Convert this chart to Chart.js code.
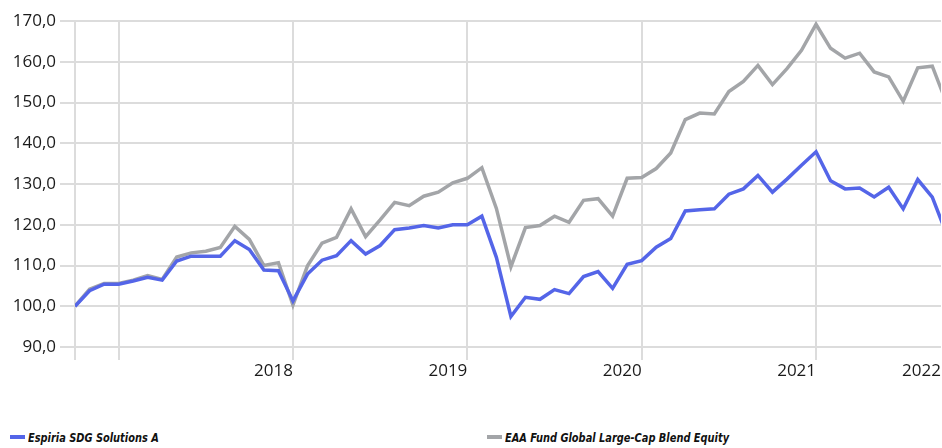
<!DOCTYPE html>
<html>
<head>
<meta charset="utf-8">
<script src="https://cdn.jsdelivr.net/npm/chart.js@4"></script>
<style>
  html, body { margin: 0; padding: 0; background: #fff; }
  #wrap { position: relative; width: 942px; height: 448px; overflow: hidden; }
  #chartBox { position: absolute; left: 0; top: 0; width: 942px; height: 400px; }
  .legend { position: absolute; top: 431px; font: italic bold 12px "Liberation Sans Narrow", "DejaVu Sans Condensed", sans-serif; color: #111; white-space: nowrap; }
  .legend span.box { display: inline-block; width: 15px; height: 4px; vertical-align: middle; margin-right: 3px; position: relative; top: -2px; }
  .legend span.txt { display: inline-block; transform: scaleX(0.91); transform-origin: left center; }
</style>
</head>
<body>
<div id="wrap">
  <div id="chartBox"><canvas id="chart"></canvas></div>
  <div class="legend" style="left:10px"><span class="box" style="background:#5465e8"></span><span class="txt">Espiria SDG Solutions A</span></div>
  <div class="legend" style="left:487px"><span class="box" style="background:#a3a5a8"></span><span class="txt">EAA Fund Global Large-Cap Blend Equity</span></div>
</div>
<script>
// monthly index values, month 0 = start of the series
const espiria = [
  100.0, 103.8, 105.4, 105.4, 106.2, 107.1, 106.4, 111.1, 112.3, 112.3,
  112.3, 116.1, 113.9, 108.9, 108.7, 101.3, 107.9, 111.3, 112.4, 116.1,
  112.8, 114.9, 118.8, 119.2, 119.8, 119.2, 120.0, 120.0, 122.1, 112.0,
  97.5, 102.2, 101.7, 104.1, 103.1, 107.3, 108.5, 104.4, 110.3, 111.2,
  114.5, 116.6, 123.4, 123.7, 123.9, 127.5, 128.8, 132.1, 128.0, 131.2,
  134.6, 137.9, 130.8, 128.8, 129.0, 126.8, 129.2, 123.9, 131.1, 126.8,
  117.6
];
const benchmark = [
  100.0, 104.2, 105.6, 105.6, 106.4, 107.5, 106.6, 112.1, 113.1, 113.5,
  114.4, 119.6, 116.4, 110.0, 110.7, 100.3, 109.9, 115.5, 116.9, 123.9,
  117.1, 121.2, 125.5, 124.7, 127.0, 128.0, 130.3, 131.4, 134.0, 124.0,
  109.7, 119.3, 119.8, 122.1, 120.6, 126.0, 126.4, 122.1, 131.4, 131.6,
  133.8, 137.6, 145.8, 147.4, 147.2, 152.7, 155.2, 159.1, 154.4, 158.3,
  162.8, 169.2, 163.3, 160.9, 162.1, 157.5, 156.3, 150.3, 158.5, 158.9,
  149.7
];
const tickMonths = [0, 3, 15, 27, 39, 51, 59.6];
const tickLabels = ["", "", "2018", "2019", "2020", "2021", "2022"];

const toPoints = (arr) => arr.map((v, i) => ({ x: i, y: v }));
const gridColor = "#dcdcdc";
const fontFamily = '"Open Sans", "Noto Sans", sans-serif';

const ctx = document.getElementById("chart");
new Chart(ctx, {
  type: "line",
  data: {
    datasets: [
      {
        label: "Espiria SDG Solutions A",
        data: toPoints(espiria),
        borderColor: "#5465e8",
        borderWidth: 3.5,
        pointRadius: 0,
        tension: 0,
        order: 1,
      },
      {
        label: "EAA Fund Global Large-Cap Blend Equity",
        data: toPoints(benchmark),
        borderColor: "#a3a5a8",
        borderWidth: 3.5,
        pointRadius: 0,
        tension: 0,
        order: 2,
      },
    ],
  },
  options: {
    responsive: true,
    maintainAspectRatio: false,
    animation: false,
    layout: { padding: { top: 21, left: 0, right: 0, bottom: 0 } },
    plugins: { legend: { display: false }, tooltip: { enabled: false } },
    scales: {
      x: {
        type: "linear",
        min: 0,
        max: 59.6,
        border: { display: false },
        afterBuildTicks: (scale) => {
          scale.ticks = tickMonths.map((v) => ({ value: v }));
        },
        afterFit: (scale) => {
          scale.height = 53;
        },
        grid: {
          color: (c) => (c.index === tickMonths.length - 1 ? "rgba(0,0,0,0)" : gridColor),
          lineWidth: 2,
          tickLength: 13,
        },
        ticks: {
          align: "end",
          padding: 1,
          maxRotation: 0,
          autoSkip: false,
          color: "#1a1a1a",
          font: { family: fontFamily, size: 17 },
          callback: (v, i) => tickLabels[i],
        },
      },
      y: {
        min: 90,
        max: 170,
        border: { display: false },
        afterFit: (scale) => {
          scale.width = 75;
        },
        grid: { color: gridColor, lineWidth: 2, tickLength: 15 },
        ticks: {
          stepSize: 10,
          padding: 4,
          color: "#1a1a1a",
          font: { family: fontFamily, size: 17 },
          callback: (v) => v.toFixed(1).replace(".", ","),
        },
      },
    },
  },
});
</script>
</body>
</html>
